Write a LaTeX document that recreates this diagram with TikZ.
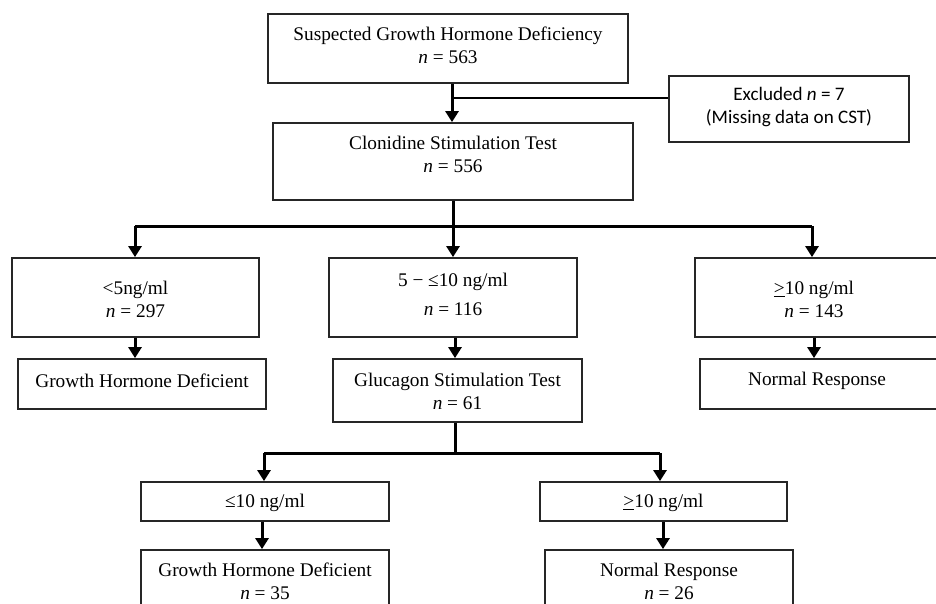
\documentclass[tikz,border=0pt]{standalone}
\usepackage{fontspec}
\setmainfont{Liberation Serif}
\newfontfamily\calfont{Carlito}
\usetikzlibrary{arrows.meta}
\begin{document}
\begin{tikzpicture}[x=1pt,y=-1pt,
  box/.style={draw=black!85, line width=1.8pt, inner sep=0pt, minimum width=#1},
  txt/.style={align=center, inner sep=0pt, font=\fontsize{19.3}{23}\selectfont},
  flow/.style={line width=3pt, -{Triangle[width=13pt,length=11pt]}},
  line/.style={line width=3pt},
  thin/.style={line width=1.7pt}]
\useasboundingbox (0,0) rectangle (936,604);
\clip (0,0) rectangle (936,604);
% boxes
\node[box=360, minimum height=69] (b1) at (448,48.5) {};
\node[txt] (b1t) at (448,45.5) {Suspected Growth Hormone Deficiency\\\textit{n} = 563};
\node[box=360, minimum height=77] (b2) at (453,161.5) {};
\node[txt] (b2t) at (453,154.5) {Clonidine Stimulation Test\\\textit{n} = 556};
\node[box=240, minimum height=66] (exc) at (789,109) {};
\node[txt, font=\calfont\fontsize{19.1}{23}\selectfont] (exct) at (789,107.5) {Excluded \textit{n} = 7\\(Missing data on CST)};
\node[box=247, minimum height=79] (c1) at (135.5,297.5) {};
\node[txt] (c1t) at (135.5,299.5) {<5ng/ml\\\textit{n} = 297};
\node[box=248, minimum height=79] (c2) at (453,297.5) {};
\node[txt] (c2t) at (453,294.5) {5 − ≤10 ng/ml\\[6pt]\textit{n} = 116};
\node[box=247, minimum height=79] (c3) at (818.5,297.5) {};
\node[txt] (c3t) at (814,299.5) {\underline{>}10 ng/ml\\\textit{n} = 143};
\node[box=248, minimum height=50] (d1) at (142,384) {};
\node[txt] (d1t) at (142,381) {Growth Hormone Deficient};
\node[box=249, minimum height=63] (d2) at (457.5,390.5) {};
\node[txt] (d2t) at (457.5,391) {Glucagon Stimulation Test\\\textit{n} = 61};
\node[box=248, minimum height=50] (d3) at (824,384) {};
\node[txt] (d3t) at (817,381) {Normal Response};
\node[box=248, minimum height=39] (e1) at (265,501.5) {};
\node[txt] (e1t) at (265,503) {≤10 ng/ml};
\node[box=247, minimum height=39] (e2) at (663.5,501.5) {};
\node[txt] (e2t) at (663.5,503) {\underline{>}10 ng/ml};
\node[box=248, minimum height=72] (f1) at (265,586) {};
\node[txt] (f1t) at (265,581.5) {Growth Hormone Deficient\\\textit{n} = 35};
\node[box=248, minimum height=72] (f2) at (669,586) {};
\node[txt] (f2t) at (669,581.5) {Normal Response\\\textit{n} = 26};
% connectors
\coordinate (j0) at (452,98);
\draw[flow] (b1.south -| j0) -- (b2.north -| j0);
\draw[thin] (j0) -- (j0 -| exc.west);
\coordinate (j1) at (453,226);
\coordinate (jl) at (135,226);
\coordinate (jr) at (812,226);
\draw[line] (b2.south -| j1) -- (j1);
\draw[line] (jl) -- (jr);
\draw[flow] (jl) -- (jl |- c1.north);
\draw[flow] (j1) -- (j1 |- c2.north);
\draw[flow] (jr) -- (jr |- c3.north);
\coordinate (k1) at (135,0);
\coordinate (k2) at (455,0);
\coordinate (k3) at (814,0);
\draw[flow] (c1.south -| k1) -- (d1.north -| k1);
\draw[flow] (c2.south -| k2) -- (d2.north -| k2);
\draw[flow] (c3.south -| k3) -- (d3.north -| k3);
\coordinate (j2) at (455,453);
\coordinate (jl2) at (264,453);
\coordinate (jr2) at (660,453);
\draw[line] (d2.south -| j2) -- (j2);
\draw[line] (jl2) -- (jr2);
\draw[flow] (jl2) -- (jl2 |- e1.north);
\draw[flow] (jr2) -- (jr2 |- e2.north);
\coordinate (m1) at (262,0);
\coordinate (m2) at (663,0);
\draw[flow] (e1.south -| m1) -- (f1.north -| m1);
\draw[flow] (e2.south -| m2) -- (f2.north -| m2);
\end{tikzpicture}
\end{document}
